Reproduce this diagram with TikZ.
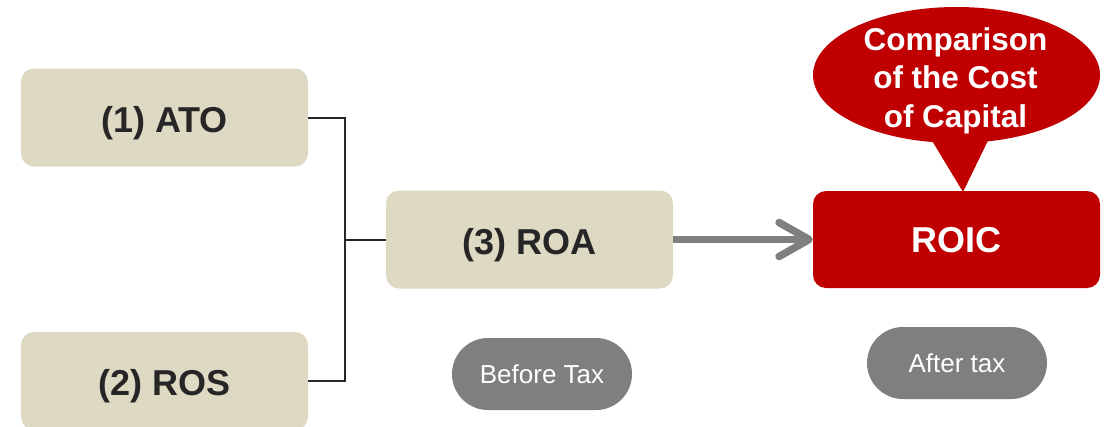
\documentclass[tikz,border=0pt]{standalone}
\usepackage{fontspec}
\setmainfont{Liberation Sans}
\usetikzlibrary{arrows.meta,shapes.callouts}
\definecolor{tan}{HTML}{DDD9C3}
\definecolor{darktxt}{HTML}{262626}
\definecolor{roicred}{HTML}{C00000}
\definecolor{pillgray}{HTML}{7F7F7F}
\tikzset{
  tanbox/.style={rectangle, rounded corners=13pt, fill=tan, minimum width=287pt, minimum height=98pt, inner sep=0pt, text height=29pt, text depth=0pt, text=darktxt, font=\fontsize{36}{40}\selectfont\bfseries},
  redbox/.style={rectangle, rounded corners=13pt, fill=roicred, minimum width=287pt, minimum height=97pt, inner sep=0pt, text height=25pt, text depth=0pt, text=white, font=\fontsize{36}{40}\selectfont\bfseries},
  pill/.style={rectangle, rounded corners=36pt, fill=pillgray, minimum width=180pt, minimum height=72pt, inner sep=0pt, text height=19pt, text depth=0pt, text=white, font=\fontsize{26}{30}\selectfont},
  joinline/.style={draw=darktxt, line width=2pt},
  bigarrow/.style={draw=pillgray, line width=7.5pt, -{Straight Barb[length=30pt,width=34pt,round]}}
}
\begin{document}
\begin{tikzpicture}[x=1pt,y=-1pt]
\useasboundingbox (0,0) rectangle (1107,426);
\clip (0,0) rectangle (1107,426);
\node[tanbox] (ato) at (164.5,117.5) {(1) ATO};
\node[tanbox] (ros) at (164.5,381) {(2) ROS};
\node[tanbox] (roa) at (529.5,239.5) {(3) ROA};
\node[redbox] (roic) at (956.5,239.5) {ROIC};
\node[pill] (before) at (542,374) {Before Tax};
\node[pill] (after) at (957,363) {After tax};
\node[ellipse callout, fill=roicred, minimum width=287pt, minimum height=136pt, inner sep=0pt,
      callout absolute pointer={(963,192)}, callout pointer arc=22] (note) at (956.5,75) {};
\node[text=white, align=center, inner sep=0pt, font=\fontsize{31.5}{38.5}\selectfont\bfseries] (notetext) at (955.5,80.5)
      {Comparison\\of the Cost\\of Capital};
\coordinate (jx) at (345,239.5);
\draw[joinline] (ato.east) -| (jx) |- (ros.east);
\draw[joinline] (jx) -- (roa.west);
\draw[bigarrow] (roa.east) -- (roic.west);
\end{tikzpicture}
\end{document}
